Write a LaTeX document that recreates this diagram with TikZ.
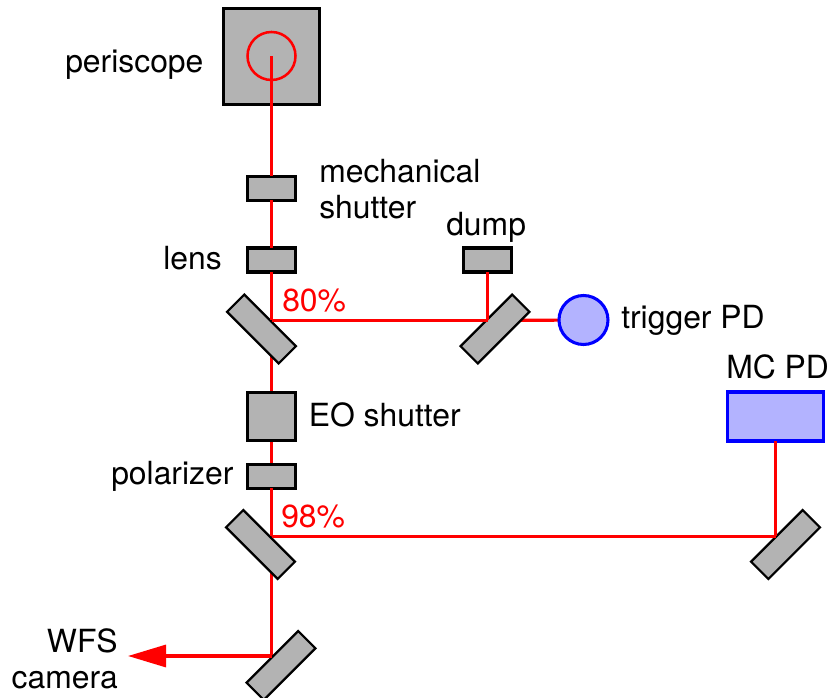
\documentclass[tikz,border=0pt]{standalone}
\usepackage{fontspec}
\setmainfont{TeX Gyre Heros}
\usetikzlibrary{arrows.meta}
\usetikzlibrary{backgrounds}

\definecolor{partgray}{RGB}{179,179,179}
\definecolor{pdblue}{RGB}{179,179,255}

\begin{document}
\begin{tikzpicture}[x=0.75pt,y=-0.75pt]
  \tikzset{part/.style = {shape=rectangle,draw=black,fill=partgray,line width=2.3pt,minimum width=36.2pt,minimum height=18pt,inner sep=0pt,outer sep=0pt}}
  \tikzset{mirror/.style = {shape=rectangle,draw=black,fill=partgray,line width=1.7pt,minimum width=54.75pt,minimum height=18.4pt,inner sep=0pt,outer sep=0pt}}
  \tikzset{detector/.style = {draw=blue,fill=pdblue,line width=2.3pt,inner sep=0pt,outer sep=0pt}}
  \tikzset{beam/.style = {draw=red,line width=2.4pt}}
  \tikzset{txt/.style = {anchor=base west,inner sep=0pt,font=\fontsize{23.9}{27}\selectfont}}

  \useasboundingbox (0,0) rectangle (829,698);

  % optics
	\node[part,minimum width=72pt,minimum height=72pt] (P) at (271.5,56.5) {};
	\node[part] (MS) at (271.5,188.5) {};
	\node[part] (L) at (271.5,260) {};
	\node[part] (D) at (487.5,260) {};
	\node[part,minimum height=36.2pt] (EO) at (271.5,416.5) {};
	\node[part] (PO) at (271.5,476.5) {};
	\node[mirror,rotate=-45] (M1) at (261.5,329) {};
	\node[mirror,rotate=45] (M2) at (495,329) {};
	\node[mirror,rotate=-45] (M3) at (260.5,544.5) {};
	\node[mirror,rotate=45] (M4) at (785.5,544.5) {};
	\node[mirror,rotate=45] (M5) at (281,665.5) {};
	\node[detector,shape=circle,minimum size=36.75pt] (TPD) at (583.5,320) {};
	\node[detector,shape=rectangle,minimum width=72pt,minimum height=36.75pt] (MPD) at (775.5,416.5) {};
	\node[shape=circle,draw=red,line width=1.9pt,minimum size=36pt,inner sep=0pt] (C) at (271.5,56) {};

  % points where the beam meets a mirror
	\coordinate (H1) at (271.5,320.5);
	\coordinate (H2) at (487.5,320.5);
	\coordinate (H3) at (271.5,536.5);
	\coordinate (H4) at (775.5,536.5);
	\coordinate (H5) at (271.5,656);
	\coordinate (W) at (128,656);

	\begin{scope}[on background layer]
       \foreach \from/\to in {H1/EO,EO/PO,H3/H5,H2/TPD}
    \path[beam] (\from) -- (\to);
	\end{scope}

	\path[beam] (P.center) -- (MS);
       \foreach \from/\to in {MS/L,L/H1,PO/H3,H1/H2,H2/D,H3/H4,H4/MPD}
    \path[beam] (\from) -- (\to);
	\path[beam,-{Triangle[length=28.5pt,width=16.5pt]},red] (H5) -- (W);

  % labels
	\node[txt] (tP) at (65,73) {periscope};
	\node[txt,align=left,anchor=north west] (tMS) at (319,159) {mechanical\\shutter};
	\node[txt] (tL) at (163,270) {lens};
	\node[txt] (tD) at (446,236) {dump};
	\node[txt,text=red] (t80) at (282,312) {80\%};
	\node[txt] (tT) at (621,329) {trigger PD};
	\node[txt] (tM) at (726,379) {MC PD};
	\node[txt] (tEO) at (308.5,427) {EO shutter};
	\node[txt] (tPO) at (111,485) {polarizer};
	\node[txt,text=red] (t98) at (281,528) {98\%};
	\node[txt,align=right,anchor=north east] (tW) at (118,628) {WFS\\camera};
\end{tikzpicture}
\end{document}
